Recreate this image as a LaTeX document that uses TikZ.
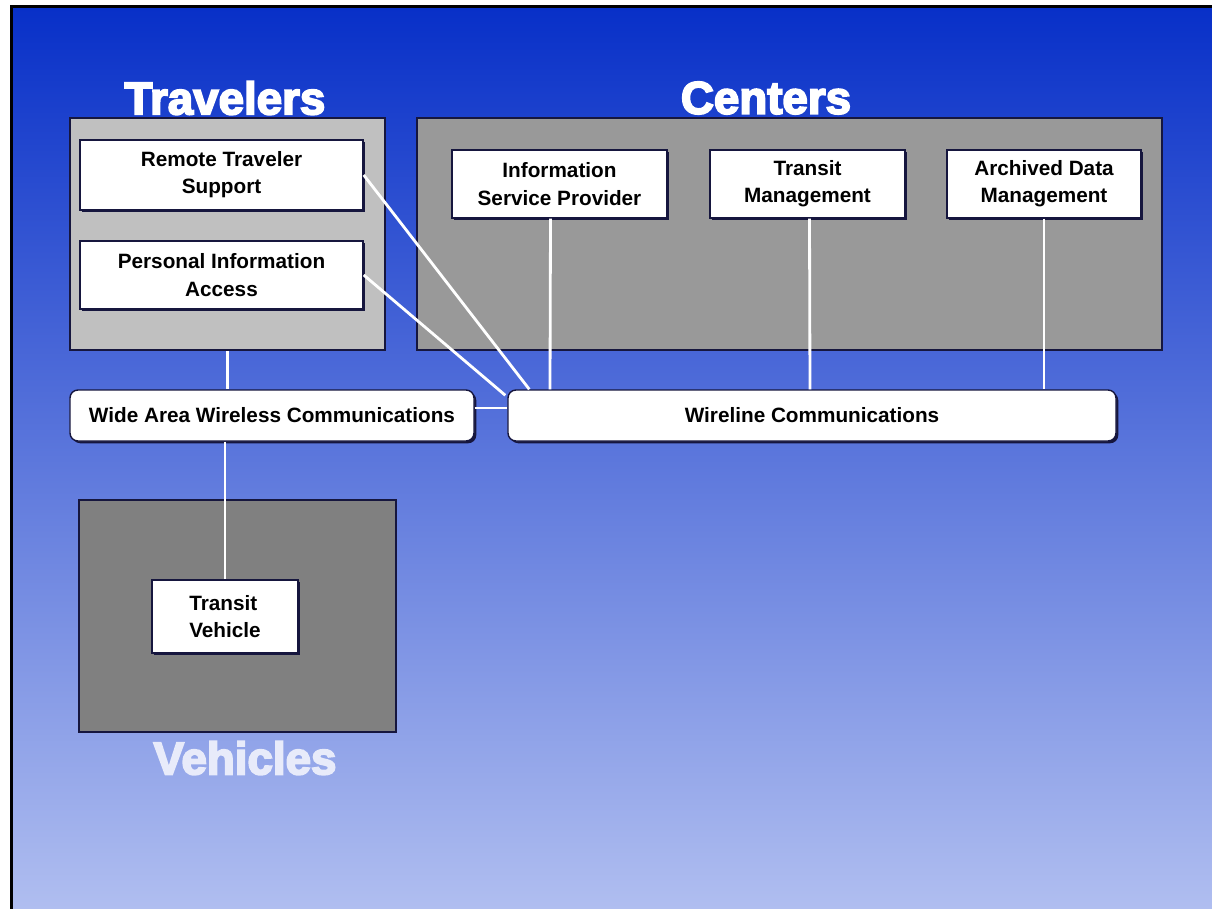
\documentclass[tikz,border=0pt]{standalone}
\usepackage{fontspec}
\setmainfont{Liberation Sans}
\newfontfamily\headfont[FakeBold=4]{Liberation Sans Bold}
\usetikzlibrary{shadows,calc}

\definecolor{bgtop}{RGB}{8,48,200}
\definecolor{bgmid}{RGB}{105,125,220}
\definecolor{bgbot}{RGB}{176,190,240}
\definecolor{edge}{RGB}{22,22,62}
\definecolor{travgray}{RGB}{192,192,192}
\definecolor{centgray}{RGB}{153,153,153}
\definecolor{vehgray}{RGB}{128,128,128}
\definecolor{fadedwhite}{RGB}{232,235,250}

\tikzset{
    groupbox/.style={draw=edge, line width=1pt, inner sep=0pt},
    funcbox/.style={draw=edge, fill=white, line width=0.8pt, inner sep=0pt,
        align=center, font=\bfseries\fontsize{11.8}{15.5}\selectfont,
        drop shadow={shadow xshift=0.45mm, shadow yshift=-0.45mm, fill=edge, opacity=1}},
    commbox/.style={funcbox, rounded corners=1.6mm},
    grouptitle/.style={font=\headfont\fontsize{26}{26}\selectfont, text=white},
    link/.style={draw=white, line width=1.6pt}
}

\begin{document}
\begin{tikzpicture}[x=0.2mm, y=-0.2mm]
        \useasboundingbox (0,0) rectangle (1212,909);
        \fill[black] (10,5) rectangle (1212,909);
        \shade[top color=bgtop, middle color=bgmid, bottom color=bgbot] (13,8) rectangle (1212,909);

        % groups
        \node[groupbox, fill=travgray, minimum width=63mm, minimum height=46.4mm] (trav) at (227.5,234) {};
        \node[groupbox, fill=centgray, minimum width=149mm, minimum height=46.4mm] (cent) at (789.5,234) {};
        \node[groupbox, fill=vehgray, minimum width=63.4mm, minimum height=46.4mm] (veh) at (237.5,616) {};

        \node[grouptitle] (travtitle) at (225,98) {Travelers};
        \node[grouptitle] (centtitle) at (766,98) {Centers};
        \node[grouptitle, text=fadedwhite] (vehtitle) at (245,758) {Vehicles};

        % subsystems
        \node[funcbox, minimum width=56.6mm, minimum height=14mm] (rts) at (221.5,175) {Remote Traveler\\Support};
        \node[funcbox, minimum width=56.6mm, minimum height=13.6mm] (pia) at (221.5,275) {Personal Information\\Access};
        \node[funcbox, minimum width=43mm, minimum height=13.6mm] (isp) at (559.5,184) {Information\\Service Provider};
        \node[funcbox, minimum width=39mm, minimum height=13.6mm] (tm) at (807.5,184) {Transit\\Management};
        \node[funcbox, minimum width=38.8mm, minimum height=13.6mm] (adm) at (1044,184) {Archived Data\\Management};
        \node[funcbox, align=left, minimum width=29.2mm, minimum height=14.6mm] (tv) at (225,616.5) {Transit\\Vehicle};

        % communications
        \node[commbox, minimum width=80.8mm, minimum height=10.2mm] (wawc) at (272,415.5) {Wide Area Wireless Communications};
        \node[commbox, minimum width=121.6mm, minimum height=10.2mm] (wlc) at (812,415.5) {Wireline Communications};

        % links
        \draw[link] (trav.south) -- (trav.south |- wawc.north);
        \draw[link] (tv.north |- wawc.south) -- (tv.north);
        \draw[link] (wawc.east |- 0,408) -- (wlc.west |- 0,408);
        \draw[link] (rts.east) -- ($(wlc.north west)+(22,0)$);
        \draw[link] (pia.east) -- ($(wlc.north west)+(-2,6)$);
        \draw[link] ($(isp.south)+(-9,0)$) -- ($(wlc.north)+(-262,0)$);
        \draw[link] ($(tm.south)+(2,0)$) -- ($(wlc.north)+(-2,0)$);
        \draw[link] (adm.south) -- (adm.south |- wlc.north);
    \end{tikzpicture}
\end{document}
